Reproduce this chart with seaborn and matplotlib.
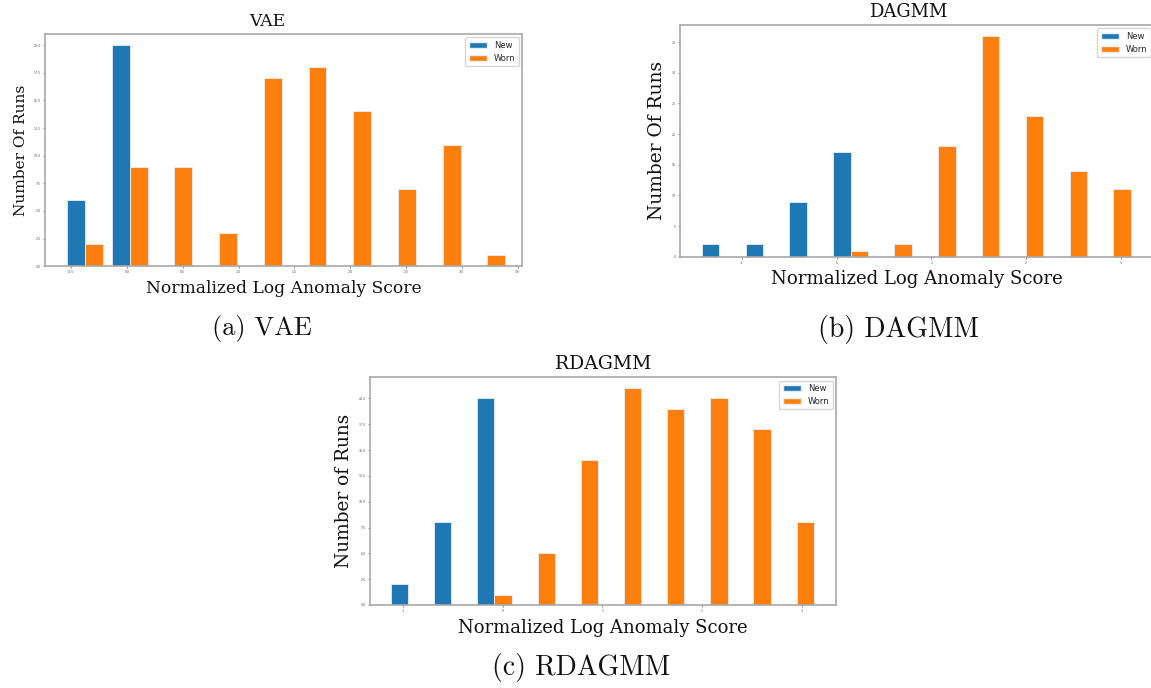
import numpy as np
import pandas as pd
import matplotlib
matplotlib.use("Agg")
import matplotlib.pyplot as plt
import seaborn as sns
from matplotlib.patches import Patch

sns.set_theme(style="white")
plt.rcParams["font.family"] = ["DejaVu Sans"]

groups = ["New", "Worn"]
colors = ["#1f77b4", "#ff7f0e"]

# VAE: 10 equal-width bins of the normalized log anomaly score
vae_range = (-0.575, 3.43)
vae_new = [6, 20, 0, 0, 0, 0, 0, 0, 0, 0]
vae_worn = [2, 9, 9, 3, 17, 18, 14, 7, 11, 1]
vae_xticks = [-0.5, 0.0, 0.5, 1.0, 1.5, 2.0, 2.5, 3.0, 3.5]
vae_yticks = [0.0, 2.5, 5.0, 7.5, 10.0, 12.5, 15.0, 17.5, 20.0]

# DAGMM
dagmm_range = (-1.47, 3.15)
dagmm_new = [2, 2, 9, 17, 0, 0, 0, 0, 0, 0]
dagmm_worn = [0, 0, 0, 1, 2, 18, 36, 23, 14, 11]
dagmm_xticks = [-1, 0, 1, 2, 3]
dagmm_yticks = [0, 5, 10, 15, 20, 25, 30, 35]

# RDAGMM
rdagmm_range = (-1.167, 3.165)
rdagmm_new = [2, 8, 20, 0, 0, 0, 0, 0, 0, 0]
rdagmm_worn = [0, 0, 1, 5, 14, 21, 19, 20, 17, 8]
rdagmm_xticks = [-1, 0, 1, 2, 3]
rdagmm_yticks = [0.0, 2.5, 5.0, 7.5, 10.0, 12.5, 15.0, 17.5, 20.0]

W, H = 1151, 688
fig = plt.figure(figsize=(W / 100, H / 100), dpi=100)


def px_axes(left, top, right, bottom):
    return fig.add_axes([left / W, 1 - bottom / H, (right - left) / W, (bottom - top) / H])


def draw_hist(ax, rng, new, worn, xticks, yticks, xlim, title, title_x, ylabel, sizes):
    n = len(new)
    edges = np.linspace(rng[0], rng[1], n + 1)
    centers = (edges[:-1] + edges[1:]) / 2
    df = pd.DataFrame({
        "score": np.concatenate([centers, centers]),
        "runs": list(new) + list(worn),
        "tool": ["New"] * n + ["Worn"] * n,
    })
    # side-by-side bars per bin, filling 80% of each bin on a numeric x axis
    sns.barplot(data=df, x="score", y="runs", hue="tool", hue_order=groups,
                palette=colors, native_scale=True, dodge=True, width=0.8,
                saturation=1, errorbar=None, edgecolor="#e8eef5", linewidth=0.6,
                legend=False, ax=ax)
    ax.set_xlim(*xlim)
    ax.set_xticks(xticks)
    ax.set_xticklabels([f"{t:g}" if isinstance(t, int) else f"{t:.1f}" for t in xticks])
    ax.set_yticks(yticks)
    ax.set_yticklabels([f"{t:g}" if isinstance(t, int) else f"{t:.1f}" for t in yticks])
    ax.set_ylim(0, max(max(new), max(worn)) * 1.05)
    ax.tick_params(axis="both", labelsize=2.3, length=1.5, width=0.5,
                   colors="#555555", pad=1.5, direction="out", bottom=True, left=True)
    for s in ax.spines.values():
        s.set_color("#a8a8a8")
        s.set_linewidth(1.2)
    t_size, xl_size, yl_size = sizes
    ttl = ax.set_title(title, fontfamily="DejaVu Serif", fontsize=t_size, pad=6,
                       color="#111111")
    ttl.set_x(title_x)
    ax.set_xlabel("Normalized Log Anomaly Score", fontfamily="DejaVu Serif",
                  fontsize=xl_size, color="#111111", labelpad=4)
    ax.set_ylabel(ylabel, fontfamily="DejaVu Serif", fontsize=yl_size,
                  color="#111111", labelpad=4)
    handles = [Patch(facecolor=c, edgecolor="#e8eef5", label=g) for c, g in zip(colors, groups)]
    ax.legend(handles=handles, loc="upper right", fontsize=6.0, handlelength=2.2,
              borderaxespad=0.4, frameon=True, fancybox=True, framealpha=0.8,
              edgecolor="#cccccc")


ax_vae = px_axes(45, 34, 522, 266.3)
draw_hist(ax_vae, vae_range, vae_new, vae_worn, vae_xticks, vae_yticks,
          (-0.734, 3.54), "VAE", 0.466, "Number Of Runs", (12.3, 12.3, 11.1))

ax_dagmm = px_axes(680, 25, 1154, 256.7)
draw_hist(ax_dagmm, dagmm_range, dagmm_new, dagmm_worn, dagmm_xticks, dagmm_yticks,
          (-1.653, 3.348), "DAGMM", 0.481, "Number Of Runs", (13.0, 13.1, 13.4))

ax_rdagmm = px_axes(370, 377.3, 836, 605)
draw_hist(ax_rdagmm, rdagmm_range, rdagmm_new, rdagmm_worn, rdagmm_xticks, rdagmm_yticks,
          (-1.331, 3.343), "RDAGMM", 0.5, "Number of Runs", (13.6, 13.0, 13.3))

cap_kw = dict(fontfamily="cmr10", ha="center", va="center", color="#111111")
fig.text(262 / W, 1 - 328 / H, "(a) VAE", fontsize=19, **cap_kw)
fig.text(898 / W, 1 - 330 / H, "(b) DAGMM", fontsize=20, **cap_kw)
fig.text(581 / W, 1 - 667 / H, "(c) RDAGMM", fontsize=20, **cap_kw)

fig.savefig("out.png", dpi=100)
